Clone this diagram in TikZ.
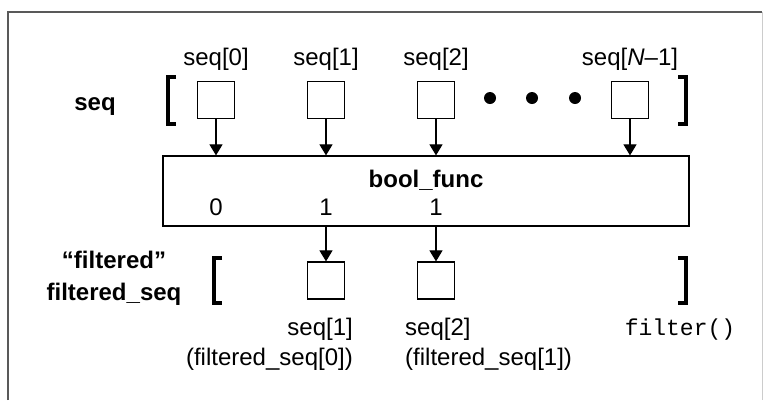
\documentclass[tikz,border=0pt]{standalone}
\usepackage{fontspec}
\setmainfont{Liberation Sans}
\setmonofont{Liberation Mono}
\usetikzlibrary{arrows.meta}
\begin{document}
\begin{tikzpicture}[x=1pt,y=-1pt,
  cell/.style={draw,line width=1.2pt,minimum width=37pt,minimum height=37pt,inner sep=0pt},
  arr/.style={line width=1.1pt,-{Triangle[width=13pt,length=11pt]}},
  brk/.style={line width=3.5pt},
  lbl/.style={font=\fontsize{24}{30}\selectfont,inner sep=0pt,anchor=base},
  blbl/.style={lbl,font=\fontsize{24}{30}\selectfont\bfseries},
  dot/.style={fill,circle,inner sep=0pt,minimum size=12pt}]
\useasboundingbox (0,0) rectangle (763,400);
% frame
\draw[line width=2.4pt,color=black!65] (8,400) -- (8,12) -- (762,12);
\draw[line width=1pt,color=black!20] (762,12) -- (762,400);
% top row
\node[blbl] (seqlbl) at (95,110) {seq};
\draw[brk] (176,77) -- (168,77) -- (168,124) -- (176,124);
\draw[brk] (678,77) -- (686,77) -- (686,124) -- (678,124);
\node[cell] (b0) at (216,100) {};
\node[cell] (b1) at (326,100) {};
\node[cell] (b2) at (436,100) {};
\node[cell] (bn) at (630,100) {};
\node[lbl] (l0) at (216,65) {seq[0]};
\node[lbl] (l1) at (326,65) {seq[1]};
\node[lbl] (l2) at (436,65) {seq[2]};
\node[lbl] (ln) at (630,65) {seq[\textit{N}–1]};
\node[dot] (d1) at (490,98) {};
\node[dot] (d2) at (532,98) {};
\node[dot] (d3) at (575,98) {};
% function box
\node[draw,line width=1.2pt,minimum width=526pt,minimum height=70pt,inner sep=0pt] (big) at (426,191) {};
\node[blbl] (bf) at (426,187) {bool\_func};
\node[lbl] (r0) at (216,215) {0};
\node[lbl] (r1) at (326,215) {1};
\node[lbl] (r2) at (436,215) {1};
\foreach \b in {b0,b1,b2,bn}
  \draw[arr] (\b.south) -- (\b.south |- big.north);
% bottom row
\node[blbl] (fq) at (114,268) {“filtered”};
\node[blbl] (fs) at (114,300) {filtered\_seq};
\draw[brk] (222,258) -- (214,258) -- (214,303) -- (222,303);
\draw[brk] (678,258) -- (686,258) -- (686,303) -- (678,303);
\node[cell] (f1) at (326,280.5) {};
\node[cell] (f2) at (436,280.5) {};
\draw[arr] (big.south -| f1.north) -- (f1.north);
\draw[arr] (big.south -| f2.north) -- (f2.north);
\node[lbl,anchor=base east] (a1) at (353,335) {seq[1]};
\node[lbl,anchor=base east] (a2) at (353,365) {(filtered\_seq[0])};
\node[lbl,anchor=base west] (c1) at (405,335) {seq[2]};
\node[lbl,anchor=base west] (c2) at (405,365) {(filtered\_seq[1])};
\node[lbl,font=\fontsize{23}{30}\selectfont\ttfamily] (flt) at (680,335) {filter()};
\end{tikzpicture}
\end{document}
